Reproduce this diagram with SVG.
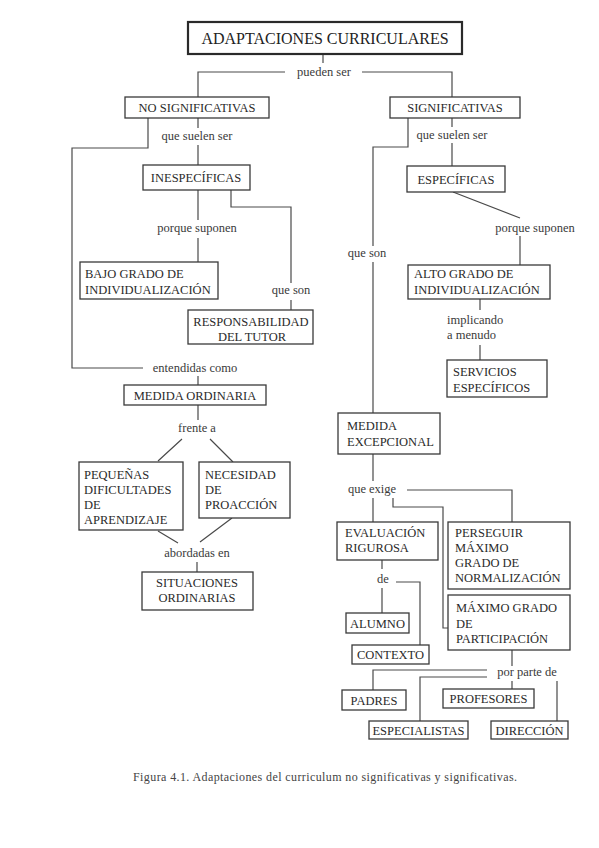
<svg xmlns="http://www.w3.org/2000/svg" width="599" height="848" viewBox="0 0 599 848">
<style>
.bg{fill:#fff}
.box{fill:#fff;stroke:#3a3a3a;stroke-width:1.3}
.tb{fill:#fff;stroke:#2a2a2a;stroke-width:2.2}
.t{font-family:"Liberation Serif","Times New Roman",serif;font-size:12.5px;fill:#2a2a2a}
.c{text-anchor:middle}
.l{font-family:"Liberation Serif","Times New Roman",serif;font-size:12.5px;fill:#3a3a3a}
.ttl{font-family:"Liberation Serif","Times New Roman",serif;font-size:16px;fill:#222;text-anchor:middle}
.cap{font-family:"Liberation Serif","Times New Roman",serif;font-size:12px;fill:#444}
.ln{fill:none;stroke:#4a4a4a;stroke-width:1.2}
</style>
<rect class="bg" x="0" y="0" width="599" height="848"/>

<g id="connectors" class="ln">
<path d="M323 54V63"/>
<path d="M198 97V72H285M362 72H452V97"/>
<path d="M148 118V148H72V368H143"/>
<path d="M198 118V128M198 145V165"/>
<path d="M198 190V220M198 238V262"/>
<path d="M231 190V207H291V283M291 300V310"/>
<path d="M198 376V385"/>
<path d="M198 405V420M182 439L158 461M210 439L233 462"/>
<path d="M158 531L178 543M232 518L200 542M197 562V572"/>
<path d="M408 118V147H373V246M373 262V413"/>
<path d="M452 118V127M452 143V166"/>
<path d="M453 192L520 218M520 236V265"/>
<path d="M480 299V310M480 345V360"/>
<path d="M373 454V481M373 498V522"/>
<path d="M407 490H512V522"/>
<path d="M393 498V507H443V628H448"/>
<path d="M382 560V569M382 588V613M396 582H420V645"/>
<path d="M512 650V666M487 670H373V690M487 677H420V721M512 681V689M557 681V721"/>
</g>

<g id="labels">
<text class="l c" x="324" y="76">pueden  ser</text>
<text class="l c" x="197" y="140">que suelen ser</text>
<text class="l c" x="452" y="139">que suelen ser</text>
<text class="l c" x="197" y="232">porque suponen</text>
<text class="l c" x="535" y="232">porque suponen</text>
<text class="l c" x="367" y="257">que son</text>
<text class="l c" x="291" y="294">que son</text>
<text class="l" x="447" y="324">implicando</text>
<text class="l" x="447" y="339">a menudo</text>
<text class="l c" x="195" y="372">entendidas como</text>
<text class="l c" x="197" y="432">frente a</text>
<text class="l c" x="197" y="557">abordadas en</text>
<text class="l c" x="372" y="493">que exige</text>
<text class="l c" x="383" y="583">de</text>
<text class="l c" x="527" y="676">por parte de</text>
</g>

<g id="n-title"><rect class="tb" x="188" y="22" width="274" height="32"/><text class="ttl" x="325" y="43.5">ADAPTACIONES CURRICULARES</text></g>
<g id="n-nosig"><rect class="box" x="125" y="97" width="144" height="21"/><text class="t c" x="197" y="112">NO SIGNIFICATIVAS</text></g>
<g id="n-sig"><rect class="box" x="390" y="97" width="130" height="21"/><text class="t c" x="455" y="112">SIGNIFICATIVAS</text></g>
<g id="n-inesp"><rect class="box" x="143" y="165" width="107" height="25"/><text class="t c" x="196" y="182">INESPECÍFICAS</text></g>
<g id="n-esp"><rect class="box" x="407" y="166" width="98" height="26"/><text class="t c" x="456" y="183.5">ESPECÍFICAS</text></g>
<g id="n-bajo"><rect class="box" x="80" y="262" width="138" height="37"/><text class="t" x="85" y="278">BAJO GRADO DE</text><text class="t" x="85" y="293.5">INDIVIDUALIZACIÓN</text></g>
<g id="n-resp"><rect class="box" x="188" y="310" width="125" height="34"/><text class="t c" x="251" y="325.5">RESPONSABILIDAD</text><text class="t c" x="252" y="340.5">DEL TUTOR</text></g>
<g id="n-alto"><rect class="box" x="408" y="265" width="142" height="34"/><text class="t" x="414" y="278">ALTO GRADO DE</text><text class="t" x="414" y="294">INDIVIDUALIZACIÓN</text></g>
<g id="n-serv"><rect class="box" x="447" y="360" width="100" height="37"/><text class="t" x="453" y="376">SERVICIOS</text><text class="t" x="453" y="391.5">ESPECÍFICOS</text></g>
<g id="n-medord"><rect class="box" x="124" y="385" width="142" height="20"/><text class="t c" x="195" y="399.5">MEDIDA ORDINARIA</text></g>
<g id="n-medexc"><rect class="box" x="338" y="413" width="102" height="41"/><text class="t" x="347" y="430">MEDIDA</text><text class="t" x="347" y="446">EXCEPCIONAL</text></g>
<g id="n-peq"><rect class="box" x="79" y="462" width="104" height="68"/><text class="t" x="84" y="479">PEQUEÑAS</text><text class="t" x="84" y="494">DIFICULTADES</text><text class="t" x="84" y="509">DE</text><text class="t" x="84" y="524">APRENDIZAJE</text></g>
<g id="n-nec"><rect class="box" x="199" y="462" width="91" height="56"/><text class="t" x="205" y="479">NECESIDAD</text><text class="t" x="205" y="494">DE</text><text class="t" x="205" y="509">PROACCIÓN</text></g>
<g id="n-sit"><rect class="box" x="142" y="572" width="111" height="38"/><text class="t c" x="197" y="587">SITUACIONES</text><text class="t c" x="197" y="602">ORDINARIAS</text></g>
<g id="n-eval"><rect class="box" x="337" y="522" width="101" height="38"/><text class="t" x="345" y="537">EVALUACIÓN</text><text class="t" x="345" y="552">RIGUROSA</text></g>
<g id="n-pers"><rect class="box" x="448" y="522" width="122" height="67"/><text class="t" x="455" y="537">PERSEGUIR</text><text class="t" x="455" y="552">MÁXIMO</text><text class="t" x="455" y="567">GRADO DE</text><text class="t" x="455" y="582">NORMALIZACIÓN</text></g>
<g id="n-maxpart"><rect class="box" x="448" y="595" width="122" height="55"/><text class="t" x="456" y="612">MÁXIMO GRADO</text><text class="t" x="456" y="628">DE</text><text class="t" x="456" y="643">PARTICIPACIÓN</text></g>
<g id="n-alumno"><rect class="box" x="346" y="613" width="63" height="20"/><text class="t c" x="377.5" y="627.5">ALUMNO</text></g>
<g id="n-contexto"><rect class="box" x="352" y="645" width="77" height="19"/><text class="t c" x="390.5" y="659">CONTEXTO</text></g>
<g id="n-padres"><rect class="box" x="342" y="690" width="64" height="20"/><text class="t c" x="374" y="704.5">PADRES</text></g>
<g id="n-profesores"><rect class="box" x="443" y="689" width="91" height="19"/><text class="t c" x="488.5" y="703">PROFESORES</text></g>
<g id="n-especialistas"><rect class="box" x="369" y="721" width="99" height="18"/><text class="t c" x="418.5" y="734.5">ESPECIALISTAS</text></g>
<g id="n-direccion"><rect class="box" x="491" y="721" width="77" height="18"/><text class="t c" x="529.5" y="734.5">DIRECCIÓN</text></g>

<text class="cap" x="133" y="781" textLength="384" lengthAdjust="spacing">Figura 4.1. Adaptaciones del curriculum no significativas y significativas.</text>
</svg>
